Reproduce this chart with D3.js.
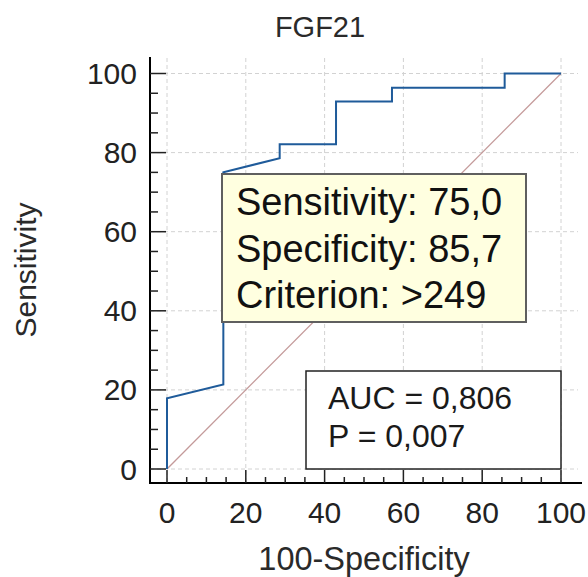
<!DOCTYPE html>
<html>
<head>
<meta charset="utf-8">
<script src="https://cdn.jsdelivr.net/npm/d3@7"></script>
<style>
html,body{margin:0;padding:0;background:#fff;}
svg{display:block;}
text{font-family:"Liberation Sans",Arial,sans-serif;}
</style>
</head>
<body>
<script>
// ROC curve points (100-Specificity, Sensitivity)
const fpr = [0, 0, 14.3, 14.3, 28.6, 28.6, 42.9, 42.9, 57.1, 57.1, 85.7, 85.7, 100];
const tpr = [0, 17.9, 21.4, 75.0, 78.6, 82.1, 82.1, 92.9, 92.9, 96.4, 96.4, 100, 100];
const majorTicks = [0, 20, 40, 60, 80, 100];
const minorTicks = d3.range(0, 101, 5).filter(v => v % 20 !== 0);
const titleText = "FGF21";
const xTitle = "100-Specificity";
const yTitle = "Sensitivity";
const criterionLines = ["Sensitivity: 75,0", "Specificity: 85,7", "Criterion: >249"];
const aucLines = ["AUC = 0,806", "P = 0,007"];

const W = 588, H = 577;
const svg = d3.select("body").append("svg").attr("width", W).attr("height", H);

const x = d3.scaleLinear().domain([0, 100]).range([167, 561]);
const y = d3.scaleLinear().domain([0, 100]).range([469, 73.5]);
const axisX = 150, axisY = 483;

// grid
const grid = svg.append("g").attr("stroke", "#d2d2d2").attr("stroke-width", 1).attr("stroke-dasharray", "4,3");
grid.selectAll("line.v").data(majorTicks).join("line")
  .attr("x1", d => x(d)).attr("x2", d => x(d)).attr("y1", 58).attr("y2", axisY);
grid.selectAll("line.h").data(majorTicks).join("line")
  .attr("x1", axisX).attr("x2", 578).attr("y1", d => y(d)).attr("y2", d => y(d));

// diagonal reference
svg.append("line").attr("x1", x(0)).attr("y1", y(0)).attr("x2", x(100)).attr("y2", y(100))
  .attr("stroke", "#c49a9a").attr("stroke-width", 1.3);

// ROC curve
const pts = fpr.map((v, i) => [v, tpr[i]]);
svg.append("path").datum(pts)
  .attr("d", d3.line().x(d => x(d[0])).y(d => y(d[1])))
  .attr("fill", "none").attr("stroke", "#1f5b9a").attr("stroke-width", 2);

// axes
svg.append("line").attr("x1", axisX).attr("x2", axisX).attr("y1", 57).attr("y2", axisY + 1)
  .attr("stroke", "#000").attr("stroke-width", 2);
svg.append("line").attr("x1", axisX - 1).attr("x2", 582).attr("y1", axisY).attr("y2", axisY)
  .attr("stroke", "#000").attr("stroke-width", 2);

const tk = svg.append("g").attr("stroke", "#222").attr("stroke-width", 1.5);
tk.selectAll("line.ym").data(majorTicks).join("line")
  .attr("x1", axisX).attr("x2", axisX + 16).attr("y1", d => y(d)).attr("y2", d => y(d));
tk.selectAll("line.yn").data(minorTicks).join("line")
  .attr("x1", axisX).attr("x2", axisX + 8).attr("y1", d => y(d)).attr("y2", d => y(d));
tk.selectAll("line.xm").data(majorTicks).join("line")
  .attr("x1", d => x(d)).attr("x2", d => x(d)).attr("y1", axisY).attr("y2", axisY - 13);
tk.selectAll("line.xn").data(minorTicks).join("line")
  .attr("x1", d => x(d)).attr("x2", d => x(d)).attr("y1", axisY).attr("y2", axisY - 6);

// tick labels
svg.selectAll("text.yl").data(majorTicks).join("text")
  .attr("x", 137).attr("y", d => y(d) + 10.5).attr("text-anchor", "end")
  .attr("font-size", 30).attr("fill", "#222").text(d => d);
svg.selectAll("text.xl").data(majorTicks).join("text")
  .attr("x", d => x(d)).attr("y", 523).attr("text-anchor", "middle")
  .attr("font-size", 30).attr("fill", "#222").text(d => d);

// titles
svg.append("text").attr("x", 320).attr("y", 37).attr("text-anchor", "middle")
  .attr("font-size", 29).attr("fill", "#2a2a2a").text(titleText);
svg.append("text").attr("x", 364).attr("y", 570).attr("text-anchor", "middle")
  .attr("font-size", 32.5).attr("fill", "#2a2a2a").text(xTitle);
svg.append("text").attr("transform", "translate(36,270) rotate(-90)").attr("text-anchor", "middle")
  .attr("font-size", 30).attr("fill", "#2a2a2a").text(yTitle);

// criterion box
svg.append("rect").attr("x", 222).attr("y", 174).attr("width", 304).attr("height", 148)
  .attr("fill", "#ffffe0").attr("stroke", "#5f5f5f").attr("stroke-width", 2);
svg.selectAll("text.cr").data(criterionLines).join("text")
  .attr("x", 236).attr("y", (d, i) => 215 + i * 46.5)
  .attr("font-size", 38).attr("fill", "#111").text(d => d);

// AUC box
svg.append("rect").attr("x", 306).attr("y", 371).attr("width", 255).attr("height", 98)
  .attr("fill", "#fff").attr("stroke", "#222").attr("stroke-width", 1.5);
svg.selectAll("text.auc").data(aucLines).join("text")
  .attr("x", 328).attr("y", (d, i) => 409 + i * 38)
  .attr("font-size", 32).attr("fill", "#1a1a1a").text(d => d);
</script>
</body>
</html>
